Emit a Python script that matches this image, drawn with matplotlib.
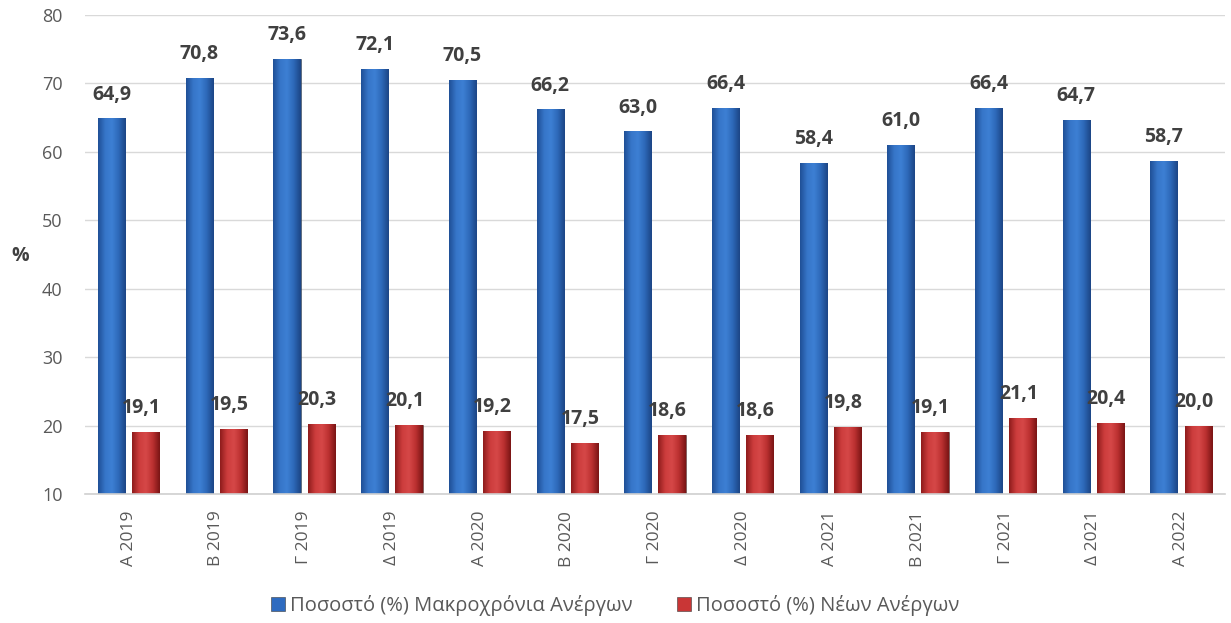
import numpy as np
import matplotlib.pyplot as plt
from matplotlib.colors import LinearSegmentedColormap

plt.rcParams['font.family'] = ['Open Sans', 'DejaVu Sans']

# Data
periodos = ["Α 2019", "Β 2019", "Γ 2019", "Δ 2019", "Α 2020", "Β 2020", "Γ 2020",
            "Δ 2020", "Α 2021", "Β 2021", "Γ 2021", "Δ 2021", "Α 2022"]
makroxronia = [64.9, 70.8, 73.6, 72.1, 70.5, 66.2, 63.0, 66.4, 58.4, 61.0, 66.4, 64.7, 58.7]
neoi = [19.1, 19.5, 20.3, 20.1, 19.2, 17.5, 18.6, 18.6, 19.8, 19.1, 21.1, 20.4, 20.0]
nombre_makro = "Ποσοστό (%) Μακροχρόνια Ανέργων"
nombre_neoi = "Ποσοστό (%) Νέων Ανέργων"

fig = plt.figure(figsize=(12.31, 6.23), dpi=100)
ax = fig.add_axes([0.069, 0.207, 0.926, 0.769])

x = np.arange(len(periodos))
w = 0.31
off = 0.195

cmap_azul = LinearSegmentedColormap.from_list("azul", ["#1f4f96", "#3675c8", "#3d80d4", "#2d68b8", "#1c4585"])
cmap_rojo = LinearSegmentedColormap.from_list("rojo", ["#8e1c1c", "#cc3c3c", "#d64848", "#bb3030", "#7a1515"])

def barras(pos, vals, cmap, base_color, label):
    bars = ax.bar(pos, np.array(vals) - 10, w, bottom=10, color=base_color,
                  edgecolor="#3a3a3a", linewidth=0.4, label=label, zorder=2)
    grad = np.linspace(0, 1, 64).reshape(1, -1)
    for b in bars:
        bx, by = b.get_x(), b.get_y()
        bw, bh = b.get_width(), b.get_height()
        im = ax.imshow(grad, cmap=cmap, aspect="auto", extent=[bx, bx + bw, by, by + bh],
                       zorder=2.5, interpolation="bicubic")
        im.set_clip_path(b)
    return bars

barras(x - off, makroxronia, cmap_azul, "#2e6bc0", nombre_makro)
barras(x + off, neoi, cmap_rojo, "#c93636", nombre_neoi)

for i in range(len(periodos)):
    ax.text(x[i] - off, makroxronia[i] + 2.0, f"{makroxronia[i]:.1f}".replace(".", ","),
            ha="center", va="bottom", fontsize=14, fontweight="bold", color="#404040")
    ax.text(x[i] + off - 0.05, neoi[i] + 2.0, f"{neoi[i]:.1f}".replace(".", ","),
            ha="center", va="bottom", fontsize=14, fontweight="bold", color="#404040")

ax.set_xlim(-0.5, len(periodos) - 0.5)
ax.set_ylim(10, 80)
ax.set_yticks(range(10, 81, 10))
ax.set_xticks(x)
ax.set_xticklabels(periodos, rotation=90, fontsize=12.5, color="#595959")
ax.tick_params(axis="y", labelsize=13, labelcolor="#595959", length=0, pad=16)
ax.tick_params(axis="x", length=0, pad=12)
ax.yaxis.grid(True, color="#d9d9d9", linewidth=1, zorder=0)
ax.set_axisbelow(True)
for s in ["top", "right", "left"]:
    ax.spines[s].set_visible(False)
ax.spines["bottom"].set_color("#d0d0d0")
ax.spines["bottom"].set_linewidth(1.2)

fig.text(0.0162, 0.589, "%", fontsize=14, fontweight="bold", color="#404040", ha="center", va="center")

leg = fig.legend(loc="center", bbox_to_anchor=(0.5, 0.028), ncol=2, frameon=False,
                 fontsize=14.5, handlelength=0.7, handleheight=0.7, columnspacing=2.2, handletextpad=0.25)
for t in leg.get_texts():
    t.set_color("#595959")

plt.savefig("out.png", dpi=100)
